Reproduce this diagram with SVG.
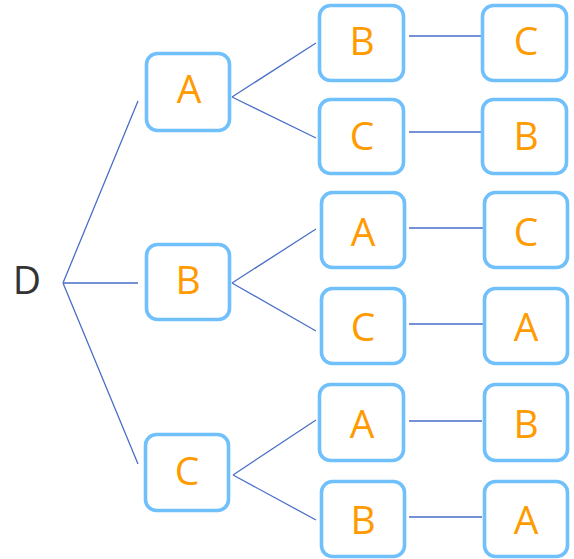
<svg xmlns="http://www.w3.org/2000/svg" width="574" height="559" viewBox="0 0 574 559">
<style>
.box{fill:#fff;stroke:#70c0fc;stroke-width:3.6}
.lbl{font-family:"Open Sans","Liberation Sans",sans-serif;font-size:39px;fill:#ff9b00;text-anchor:middle}
.root{font-family:"Open Sans","Liberation Sans",sans-serif;font-size:39px;fill:#333;text-anchor:middle}
.con{fill:none;stroke:#4a6fc8;stroke-width:1.3}
</style>
<g id="connectors" class="con">
<path d="M63 283L138 101M63 283L138 283M63 283L138 464"/>
<path d="M232 97L316 43M232 97L316 138"/>
<path d="M232 283L316 229M232 283L316 331"/>
<path d="M233 475L316 420M233 475L316 520"/>
<path d="M409 36H481M409 132H481M409 228H484M409 324H484M409 421H482M409 517H482"/>
</g>
<g id="D"><text class="root" x="27" y="294">D</text></g>
<g id="n1A"><rect class="box" x="146.5" y="53.5" width="83" height="77" rx="11"/><text class="lbl" x="189" y="103">A</text></g>
<g id="n1B"><rect class="box" x="146.5" y="244.5" width="83" height="75" rx="11"/><text class="lbl" x="188" y="294">B</text></g>
<g id="n1C"><rect class="box" x="145.5" y="434.5" width="83" height="76" rx="11"/><text class="lbl" x="187" y="485">C</text></g>
<g id="n2AB"><rect class="box" x="319.5" y="5.5" width="84" height="75" rx="11"/><text class="lbl" x="362" y="55">B</text></g>
<g id="n2AC"><rect class="box" x="319.5" y="99.5" width="84" height="74" rx="11"/><text class="lbl" x="362" y="150">C</text></g>
<g id="n2BA"><rect class="box" x="321.5" y="192.5" width="83" height="75" rx="11"/><text class="lbl" x="363" y="246">A</text></g>
<g id="n2BC"><rect class="box" x="321.5" y="288.5" width="83" height="75" rx="11"/><text class="lbl" x="363" y="341">C</text></g>
<g id="n2CA"><rect class="box" x="319.5" y="384.5" width="84" height="76" rx="11"/><text class="lbl" x="362" y="438">A</text></g>
<g id="n2CB"><rect class="box" x="321.5" y="481.5" width="83" height="75" rx="11"/><text class="lbl" x="363" y="534">B</text></g>
<g id="n3ABC"><rect class="box" x="482.5" y="5.5" width="84" height="75" rx="11"/><text class="lbl" x="526" y="55">C</text></g>
<g id="n3ACB"><rect class="box" x="482.5" y="99.5" width="84" height="74" rx="11"/><text class="lbl" x="526" y="150">B</text></g>
<g id="n3BAC"><rect class="box" x="484.5" y="192.5" width="83" height="75" rx="11"/><text class="lbl" x="526" y="246">C</text></g>
<g id="n3BCA"><rect class="box" x="484.5" y="288.5" width="83" height="75" rx="11"/><text class="lbl" x="526" y="341">A</text></g>
<g id="n3CAB"><rect class="box" x="484.5" y="384.5" width="83" height="76" rx="11"/><text class="lbl" x="526" y="438">B</text></g>
<g id="n3CBA"><rect class="box" x="484.5" y="481.5" width="83" height="75" rx="11"/><text class="lbl" x="526" y="534">A</text></g>
</svg>
